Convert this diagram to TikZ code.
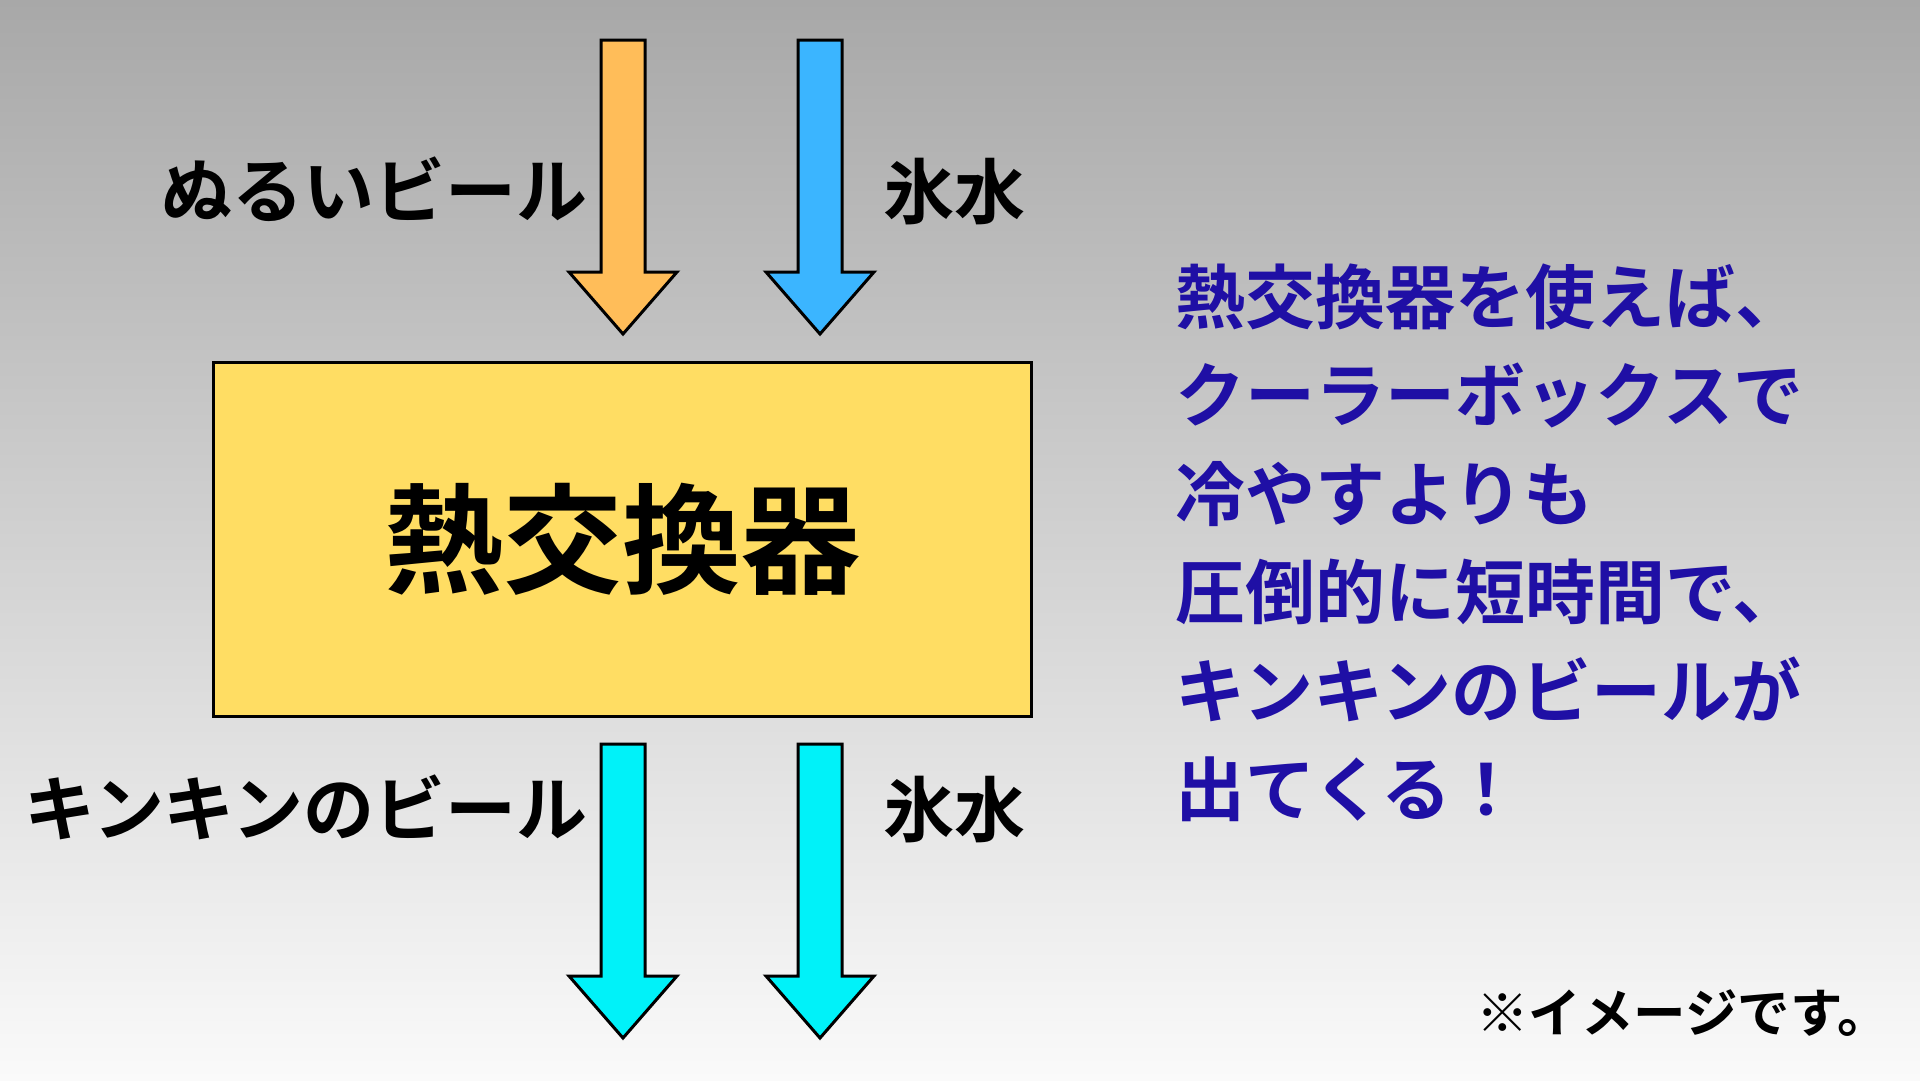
\documentclass[tikz,border=0pt]{standalone}
\usepackage{fontspec}
\newfontfamily\jp{Noto Sans CJK JP}[BoldFont={Noto Sans CJK JP Bold}]
\usetikzlibrary{positioning}

\definecolor{bgtop}{HTML}{A8A8A8}
\definecolor{bgbottom}{HTML}{FAFAFA}
\definecolor{warmbeer}{HTML}{FFBD59}
\definecolor{icewater}{HTML}{3BB5FF}
\definecolor{coldflow}{HTML}{00F2F9}
\definecolor{exchanger}{HTML}{FFDD63}
\definecolor{notecolor}{HTML}{1F0FA5}

\tikzset{
  arrowline/.style={draw=black, line width=3pt, line join=miter},
  flowlabel/.style={inner sep=0pt, font=\jp\bfseries\fontsize{71}{80}\selectfont},
  noteline/.style={inner sep=0pt, anchor=base west, text=notecolor,
    font=\jp\bfseries\fontsize{70}{80}\selectfont}
}

% block arrow pointing down: centre x, top y, head y, tip y, colour
\newcommand{\flowarrow}[5]{%
  \filldraw[arrowline, fill=#5] (#1-22,#2) -- (#1+22,#2) -- (#1+22,#3)
    -- (#1+54,#3) -- (#1,#4) -- (#1-54,#3) -- (#1-22,#3) -- cycle;}

\begin{document}
\begin{tikzpicture}[x=1pt, y=-1pt]
  % Background
  \shade[top color=bgtop, bottom color=bgbottom] (0,0) rectangle (1920,1080);
  \useasboundingbox (0,0) rectangle (1920,1080);

  % Flows in
  \flowarrow{623}{40}{272}{334}{warmbeer}
  \flowarrow{820}{40}{272}{334}{icewater}

  % The heat exchanger
  \node (hx) [draw=black, line width=3pt, fill=exchanger, minimum width=818,
    minimum height=354, inner sep=0pt,
    font=\jp\bfseries\fontsize{119}{130}\selectfont] at (622,539) {熱交換器};

  % Flows out
  \flowarrow{623}{744}{976}{1038}{coldflow}
  \flowarrow{820}{744}{976}{1038}{coldflow}

  % Labels
  \node (warmin) [flowlabel, anchor=base east] at (588,217) {ぬるいビール};
  \node (icein) [flowlabel, anchor=base west] at (883,218) {氷水};
  \node (coldout) [flowlabel, anchor=base east] at (588,835) {キンキンのビール};
  \node (iceout) [flowlabel, anchor=base west] at (883,836) {氷水};

  % Explanation
  \foreach \txt [count=\i] in {熱交換器を使えば、, クーラーボックスで, 冷やすよりも,
      圧倒的に短時間で、, キンキンのビールが, 出てくる！}
    \node (note\i) [noteline] at (1175,{323+98.5*(\i-1)}) {\txt};

  \node (remark) [inner sep=0pt, anchor=base west,
    font=\jp\bfseries\fontsize{52.5}{60}\selectfont] at (1476,1032) {※イメージです。};
\end{tikzpicture}
\end{document}
